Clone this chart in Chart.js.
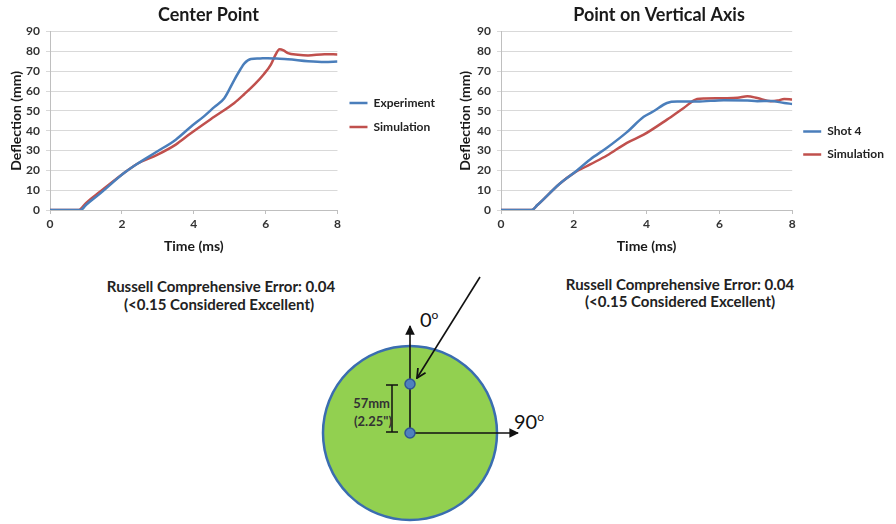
<!DOCTYPE html>
<html>
<head>
<meta charset="utf-8">
<script src="https://cdn.jsdelivr.net/npm/chart.js@4.4.1/dist/chart.umd.min.js"></script>
<style>
body { margin:0; width:896px; height:524px; position:relative; overflow:hidden; background:#fff; font-family: Lato, "Noto Sans", sans-serif; }
canvas { position:absolute; top:0; }
#left { left:-28px; }
#right { left:424px; }
svg { position:absolute; left:0; top:0; }
</style>
</head>
<body>
<svg width="896" height="524" font-family="Lato, 'Noto Sans', sans-serif">
  <defs>
    <marker id="arr" viewBox="0 0 10 10" refX="9" refY="5" markerWidth="6" markerHeight="6" orient="auto">
      <path d="M0,0 L10,5 L0,10 z" fill="#111"/>
    </marker>
    <marker id="open" viewBox="0 0 10 10" refX="9" refY="5" markerWidth="7" markerHeight="7" orient="auto">
      <path d="M1,1 L9,5 L1,9" fill="none" stroke="#111" stroke-width="1.6"/>
    </marker>
  </defs>
  <g font-weight="bold" font-size="15" fill="#222" text-anchor="middle">
    <text x="221" y="292">Russell Comprehensive Error: 0.04</text>
    <text x="219" y="310">(&lt;0.15  Considered Excellent)</text>
    <text x="680" y="290">Russell Comprehensive Error: 0.04</text>
    <text x="680" y="307">(&lt;0.15  Considered Excellent)</text>
  </g>
  <circle cx="410" cy="433" r="87" fill="#92d050" stroke="#3a6db0" stroke-width="2.5"/>
  <line x1="410" y1="433" x2="410" y2="326" stroke="#111" stroke-width="1.6" marker-end="url(#arr)"/>
  <line x1="410" y1="433" x2="518" y2="433" stroke="#111" stroke-width="1.6" marker-end="url(#arr)"/>
  <line x1="480" y1="277" x2="417" y2="378" stroke="#111" stroke-width="1.6" marker-end="url(#open)"/>
  <g stroke="#111" stroke-width="1.5">
    <line x1="392" y1="385" x2="392" y2="432"/>
    <line x1="386" y1="385" x2="398" y2="385"/>
    <line x1="386" y1="432" x2="398" y2="432"/>
  </g>
  <circle cx="410" cy="384" r="5" fill="#4f81bd" stroke="#2f5597" stroke-width="1.5"/>
  <circle cx="410" cy="433" r="5" fill="#4f81bd" stroke="#2f5597" stroke-width="1.5"/>
  <g font-weight="bold" font-size="13" fill="#333" text-anchor="end">
    <text x="390" y="408">57mm</text>
    <text x="392" y="426">(2.25")</text>
  </g>
  <text x="420" y="327" font-size="20" fill="#111">0<tspan font-size="12" dy="-8">o</tspan></text>
  <text x="514" y="429" font-size="20" fill="#111">90<tspan font-size="12" dy="-8">o</tspan></text>
</svg>
<canvas id="left" width="473" height="262"></canvas>
<canvas id="right" width="470" height="262"></canvas>
<script>
// Center Point
const tCenterExp = [0, 0.85, 1.0, 1.4, 2.05, 2.42, 2.98, 3.5, 3.92, 4.3, 4.57, 4.85, 5.13, 5.3, 5.41, 5.59, 5.8, 6.06, 6.3, 6.62, 7.18, 7.64, 8.0];
const vCenterExp = [0, 0, 2.5, 8.4, 18.5, 23.2, 29.5, 35.5, 42, 47.5, 51.9, 56.4, 65.7, 71, 74, 76.2, 76.4, 76.6, 76.4, 76.1, 75.1, 74.7, 74.9];
const tCenterSim = [0, 0.8, 1.0, 1.4, 2.05, 2.42, 2.98, 3.5, 3.92, 4.57, 5.13, 5.41, 5.7, 5.95, 6.15, 6.25, 6.39, 6.5, 6.62, 6.9, 7.18, 7.64, 8.0];
const vCenterSim = [0, 0, 3.5, 9.3, 18.5, 23.2, 27.8, 33, 38.7, 47, 54, 58.5, 63.5, 68.5, 73.5, 77.4, 81.1, 80.5, 79.1, 78.3, 78, 78.6, 78.5];

// Point on Vertical Axis
const tAxisShot = [0, 0.84, 1.0, 1.62, 1.99, 2.45, 2.91, 3.46, 3.92, 4.19, 4.56, 4.84, 5.39, 6.12, 6.77, 7.04, 7.41, 7.78, 8.0];
const vAxisShot = [0, 0, 2.5, 13.4, 18.5, 25.5, 31.4, 39.3, 47, 49.8, 54, 54.7, 54.7, 55.4, 55.2, 54.9, 55, 54, 53.5];
const tAxisSim = [0, 0.84, 1.0, 1.62, 1.99, 2.45, 2.91, 3.46, 3.92, 4.56, 5.02, 5.39, 5.6, 6.12, 6.5, 6.77, 7.04, 7.41, 7.6, 7.78, 8.0];
const vAxisSim = [0, 0, 2.5, 13.4, 18.5, 23, 27.5, 33.9, 38, 45.6, 51.5, 56, 56.3, 56.4, 56.6, 57.4, 56.5, 54.9, 55.2, 56, 55.7];

const xTicks = [0, 2, 4, 6, 8];
const yTicks = [0, 10, 20, 30, 40, 50, 60, 70, 80, 90];

const blue = '#4a7ebb';
const red = '#c0504d';

function pts(t, v) {
  return t.map((x, i) => ({x: x, y: v[i]}));
}

function line(label, t, v, color) {
  return {
    label: label,
    data: pts(t, v),
    borderColor: color,
    backgroundColor: color,
    borderWidth: 2.5,
    pointRadius: 0,
    cubicInterpolationMode: 'monotone',
    showLine: true
  };
}

function makeChart(id, title, datasets, yWidth, yTitlePad, legendPad, legendTop) {
  return new Chart(document.getElementById(id), {
    type: 'scatter',
    data: { datasets: datasets },
    options: {
      responsive: false,
      animation: false,
      layout: { padding: 0 },
      plugins: {
        title: {
          display: true,
          text: title,
          color: '#1a1a1a',
          font: { family: 'Lato', size: 18, weight: 'bold' },
          padding: { top: 4, bottom: 6 }
        },
        legend: {
          position: 'right',
          align: 'start',
          title: { display: true, text: '', padding: { top: legendTop, bottom: 0 } },
          labels: {
            usePointStyle: true,
            pointStyle: 'line',
            pointStyleWidth: 18,
            padding: legendPad,
            color: '#222',
            font: { family: 'Lato', size: 12, weight: 'bold' }
          }
        },
        tooltip: { enabled: false }
      },
      scales: {
        x: {
          type: 'linear',
          min: 0,
          max: 8,
          afterBuildTicks: s => { s.ticks = xTicks.map(v => ({value: v})); },
          afterFit: s => { s.height = 52; },
          ticks: { color: '#333', padding: 3, font: { family: 'Lato', size: 12, weight: 'bold' } },
          grid: { drawOnChartArea: false, tickLength: 4, color: '#bfbfbf' },
          border: { color: '#bfbfbf' },
          title: {
            display: true,
            text: 'Time (ms)',
            color: '#1a1a1a',
            font: { family: 'Lato', size: 14, weight: 'bold' },
            padding: { top: 0, bottom: 7.5 }
          }
        },
        y: {
          min: 0,
          max: 90,
          afterBuildTicks: s => { s.ticks = yTicks.map(v => ({value: v})); },
          afterFit: s => { s.width = yWidth; },
          ticks: { color: '#333', padding: 6, font: { family: 'Lato', size: 12, weight: 'bold' } },
          grid: { color: '#d9d9d9', tickLength: 4 },
          border: { color: '#bfbfbf' },
          title: {
            display: true,
            text: 'Deflection (mm)',
            color: '#1a1a1a',
            font: { family: 'Lato', size: 14, weight: 'bold' },
            padding: { top: yTitlePad, bottom: 0 }
          }
        }
      }
    }
  });
}

makeChart('left', 'Center Point', [
  line('Experiment', tCenterExp, vCenterExp, blue),
  line('Simulation', tCenterSim, vCenterSim, red)
], 78, 36.5, 12, 70.6);

makeChart('right', 'Point on Vertical Axis', [
  line('Shot 4', tAxisShot, vAxisShot, blue),
  line('Simulation', tAxisSim, vAxisSim, red)
], 77, 33.5, 11, 100);
</script>
</body>
</html>
